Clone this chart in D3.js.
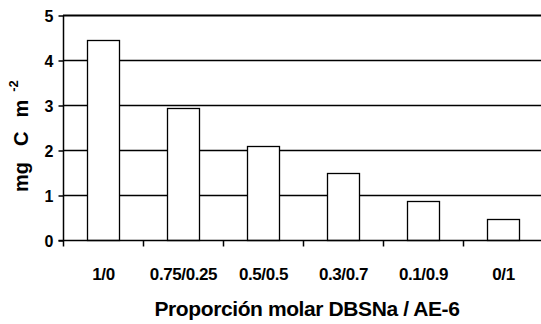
<!DOCTYPE html>
<html lang="es">
<meta charset="utf-8" />
<style>
  body { margin: 0; background: #fff; }
  text { font-family: "Liberation Sans", Arial, sans-serif; font-weight: bold; fill: #000; }
</style>
<svg width="541" height="324"></svg>
<script src="https://d3js.org/d3.v7.min.js"></script>
<script>
// datos: proporción molar y carbono adsorbido
var categorias = ["1/0", "0.75/0.25", "0.5/0.5", "0.3/0.7", "0.1/0.9", "0/1"];
var valores = [4.44, 2.93, 2.08, 1.50, 0.87, 0.47];
var ticksY = [0, 1, 2, 3, 4, 5];

var svg = d3.select("svg");

var x = d3.scaleBand()
    .domain(categorias)
    .range([63, 543])
    .paddingInner(0.6)
    .paddingOuter(0.3);

var y = d3.scaleLinear()
    .domain([0, 5])
    .range([240, 15]);

// líneas de rejilla
svg.append("g")
  .selectAll("line")
  .data(ticksY.slice(1))
  .enter().append("line")
    .attr("x1", 63).attr("x2", 543)
    .attr("y1", function(d) { return Math.round(y(d)) + 0.5; })
    .attr("y2", function(d) { return Math.round(y(d)) + 0.5; })
    .attr("stroke", "#000")
    .attr("stroke-width", function(d) { return d == 5 ? 2 : 1.3; });

// barras
svg.append("g")
  .selectAll("rect")
  .data(valores)
  .enter().append("rect")
    .attr("x", function(d, i) { return Math.round(x(categorias[i])) + 0.5; })
    .attr("y", function(d) { return Math.round(y(d)) + 0.5; })
    .attr("width", Math.round(x.bandwidth()))
    .attr("height", function(d) { return Math.round(y(0)) - Math.round(y(d)); })
    .attr("fill", "#fff")
    .attr("stroke", "#000")
    .attr("stroke-width", 1.3);

// eje Y
var ejeY = svg.append("g")
    .attr("transform", "translate(63.5,0.5)")
    .call(d3.axisLeft(y).tickValues(ticksY).tickSize(5).tickPadding(5).tickFormat(d3.format("d")));
ejeY.selectAll("text").style("font-size", "16px").attr("dy", "0.36em");
ejeY.selectAll("line, path").attr("stroke", "#000").attr("stroke-width", 1.5);
ejeY.select(".domain").attr("d", "M0," + y(5) + "V" + y(0));

// eje X
var ejeX = svg.append("g")
    .attr("transform", "translate(0.5,240.5)");
ejeX.append("line")
    .attr("x1", 58).attr("x2", 543)
    .attr("stroke", "#000").attr("stroke-width", 1.5);
ejeX.selectAll(".tick")
  .data(categorias)
  .enter().append("line")
    .attr("x1", function(d) { return x(d) - x.step() * 0.3; })
    .attr("x2", function(d) { return x(d) - x.step() * 0.3; })
    .attr("y2", 6)
    .attr("stroke", "#000").attr("stroke-width", 1.5);
ejeX.selectAll(".etiqueta")
  .data(categorias)
  .enter().append("text")
    .attr("x", function(d) { return x(d) + x.bandwidth() / 2; })
    .attr("y", 39.5)
    .attr("text-anchor", "middle")
    .style("font-size", "17px")
    .style("letter-spacing", "-0.4px")
    .text(function(d) { return d; });

// títulos
svg.append("text")
    .attr("x", 307)
    .attr("y", 316)
    .attr("text-anchor", "middle")
    .style("font-size", "21px")
    .style("letter-spacing", "-0.4px")
    .text("Proporción molar DBSNa / AE-6");

var ty = svg.append("text")
    .attr("transform", "translate(28,192) rotate(-90)")
    .attr("text-anchor", "start")
    .style("font-size", "20px");
ty.append("tspan").text("mg");
ty.append("tspan").attr("dx", 16).text("C");
ty.append("tspan").attr("dx", 14).text("m");
ty.append("tspan").attr("dx", 8).attr("dy", -10).style("font-size", "13px").text("-2");
</script>
</html>
